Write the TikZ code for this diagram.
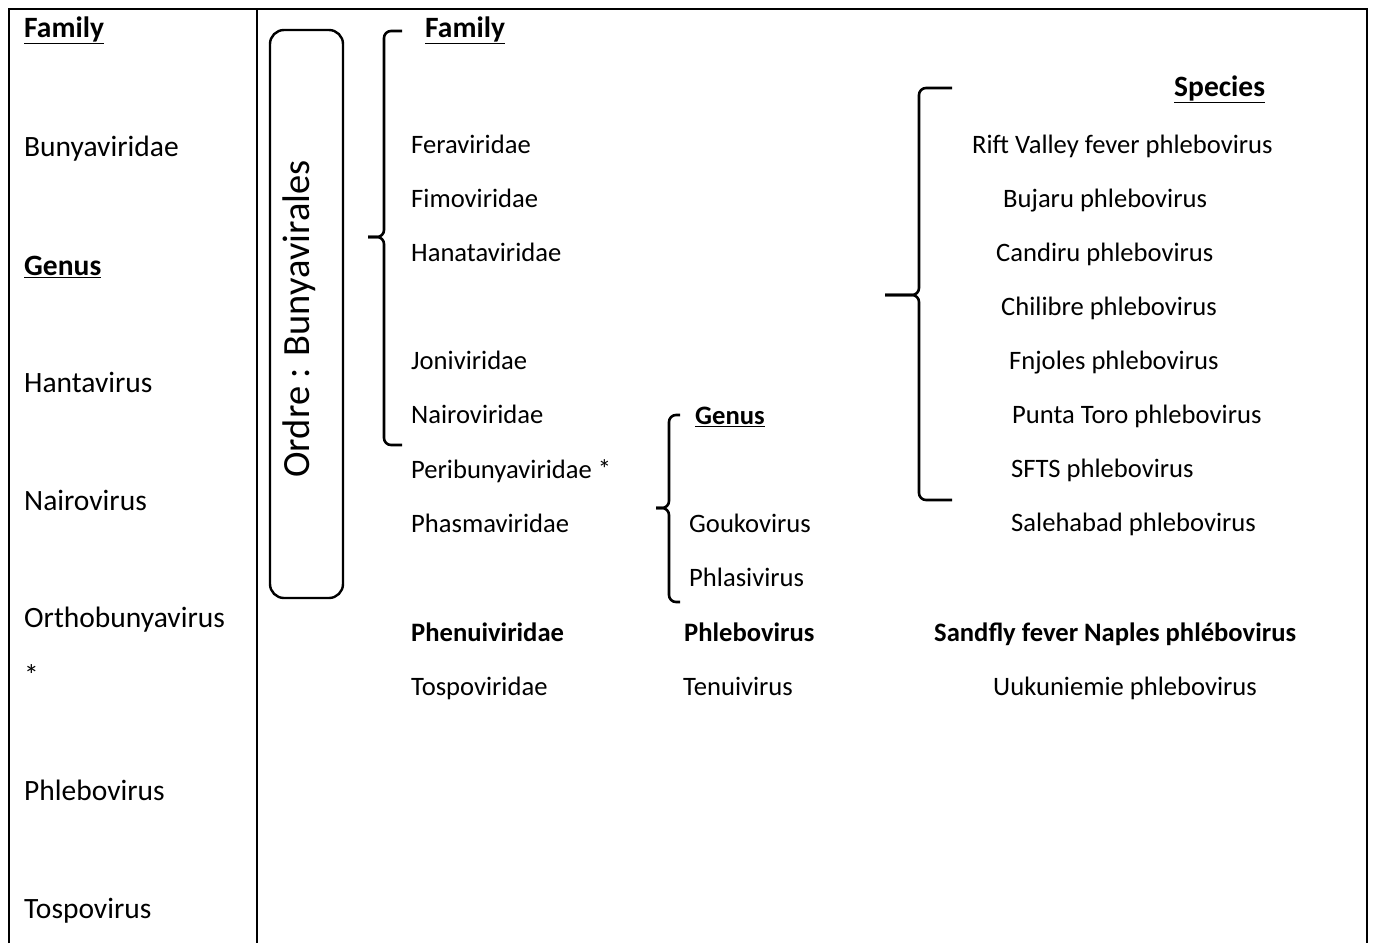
\documentclass[tikz,border=0pt]{standalone}
\usepackage{fontspec}
\setmainfont{Carlito}
\usepackage{tikz}

\tikzset{
  lbl/.style={anchor=west,inner sep=0pt,text height=17pt,text depth=0pt,font=\fontsize{26.6}{32}\selectfont},
  hdr/.style={lbl,font=\fontsize{26.6}{32}\selectfont\bfseries},
  big/.style={anchor=west,inner sep=0pt,text height=19pt,text depth=0pt,font=\fontsize{29.5}{35}\selectfont},
  bighdr/.style={big,font=\fontsize{29.5}{35}\selectfont\bfseries},
  brc/.style={line width=2.6pt,rounded corners=7pt},
  frame/.style={line width=2pt}
}

\begin{document}
\begin{tikzpicture}[x=1pt,y=-1pt]
\useasboundingbox (0,0) rectangle (1375,943);
\draw[frame] (9,943) -- (9,9) -- (1367,9) -- (1367,943);
\draw[frame] (257,9) -- (257,943);

% left column
\node[bighdr] (lfam) at (24,28) {\underline{Family}};
\node[big] (lbun) at (24,147) {Bunyaviridae};
\node[bighdr] (lgen) at (24,266) {\underline{Genus}};
\node[big] (lhan) at (24,383) {Hantavirus};
\node[big] (lnai) at (24,501) {Nairovirus};
\node[big] (lort) at (24,618) {Orthobunyavirus};
\node[big] (lstar) at (24,676) {*};
\node[big] (lphl) at (24,791) {Phlebovirus};
\node[big] (ltos) at (24,909) {Tospovirus};

% order box
\draw[line width=2.4pt,rounded corners=14pt] (270,30) rectangle (343,598);
\node[rotate=90,inner sep=0pt,font=\fontsize{38.5}{44}\selectfont] (ordre) at (299,319) {Ordre : Bunyavirales};

% families
\draw[brc] (402,31) -- (384,31) -- (384,237) -- (368,237);
\draw[brc] (368,237) -- (384,237) -- (384,445) -- (402,445);
\node[bighdr] (ffam) at (425,28) {\underline{Family}};
\node[lbl] (fer) at (411,145) {Feraviridae};
\node[lbl] (fim) at (411,199) {Fimoviridae};
\node[lbl] (han) at (411,253) {Hanataviridae};
\node[lbl] (jon) at (411,361) {Joniviridae};
\node[lbl] (nai) at (411,415) {Nairoviridae};
\node[lbl] (per) at (411,470) {Peribunyaviridae *};
\node[lbl] (pha) at (411,524) {Phasmaviridae};
\node[hdr] (phe) at (411,633) {Phenuiviridae};
\node[lbl] (tos) at (411,687) {Tospoviridae};

% genera
\draw[brc] (680,415) -- (669,415) -- (669,508) -- (656,508);
\draw[brc] (656,508) -- (669,508) -- (669,602) -- (680,602);
\node[hdr] (ggen) at (695,416) {\underline{Genus}};
\node[lbl] (gou) at (689,524) {Goukovirus};
\node[lbl] (phs) at (689,578) {Phlasivirus};
\node[hdr] (phb) at (684,633) {Phlebovirus};
\node[lbl] (ten) at (683,687) {Tenuivirus};

% species
\draw[brc] (952,88) -- (919,88) -- (919,295) -- (885,295);
\draw[brc] (885,295) -- (919,295) -- (919,500) -- (952,500);
\node[bighdr] (sspe) at (1174,87) {\underline{Species}};
\node[lbl] (rif) at (972,145) {Rift Valley fever phlebovirus};
\node[lbl] (buj) at (1003,199) {Bujaru phlebovirus};
\node[lbl] (can) at (996,253) {Candiru phlebovirus};
\node[lbl] (chi) at (1001,307) {Chilibre phlebovirus};
\node[lbl] (fnj) at (1009,361) {Fnjoles phlebovirus};
\node[lbl] (pun) at (1012,415) {Punta Toro phlebovirus};
\node[lbl] (sft) at (1011,469) {SFTS phlebovirus};
\node[lbl] (sal) at (1011,523) {Salehabad phlebovirus};
\node[hdr] (san) at (934,633) {Sandfly fever Naples phlébovirus};
\node[lbl] (uuk) at (993,687) {Uukuniemie phlebovirus};
\end{tikzpicture}
\end{document}
